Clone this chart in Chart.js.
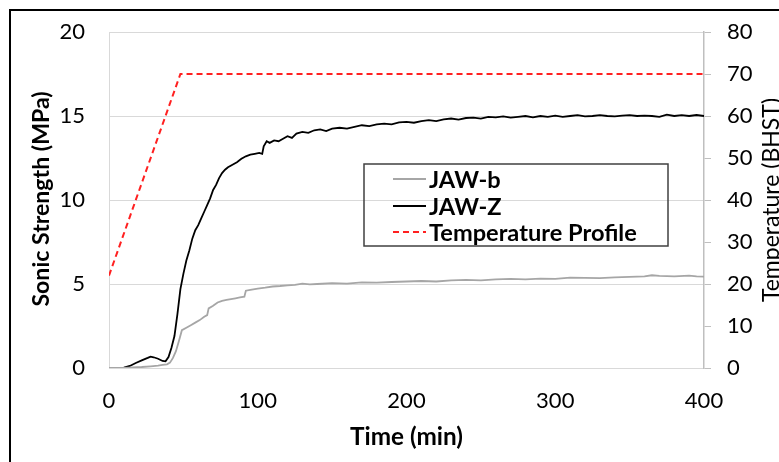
<!DOCTYPE html>
<html>
<head>
<meta charset="utf-8">
<script src="https://cdn.jsdelivr.net/npm/chart.js@4.4.1/dist/chart.umd.min.js"></script>
<style>
  body { margin: 0; background: #fff; }
  #wrap { width: 779px; height: 462px; }
</style>
</head>
<body>
<div id="wrap"><canvas id="chart" width="779" height="462"></canvas></div>
<script>
// values
const jawZTime = [0, 5, 10, 14, 18, 22, 26, 28, 30, 33, 36, 38, 40, 42, 44, 46, 48, 50, 52, 54, 56, 58, 60, 62, 64, 66, 68, 70, 72, 74, 76, 78, 80, 83, 86, 89, 92, 95, 98, 101, 103, 104, 106, 108, 111, 114, 117, 120, 123, 126, 130, 134, 138, 142, 146, 150, 155, 160, 165, 170, 175, 180, 185, 190, 195, 200, 205, 210, 215, 220, 225, 230, 235, 240, 245, 250, 255, 260, 265, 270, 275, 280, 285, 290, 295, 300, 305, 310, 315, 320, 325, 330, 335, 340, 345, 350, 355, 360, 365, 370, 375, 380, 385, 390, 395, 400];
const jawZ = [0, 0, 0.02, 0.12, 0.3, 0.45, 0.6, 0.68, 0.64, 0.55, 0.42, 0.4, 0.65, 1.2, 1.9, 3.2, 4.7, 5.6, 6.4, 7.0, 7.7, 8.2, 8.5, 8.9, 9.3, 9.7, 10.1, 10.6, 10.9, 11.3, 11.6, 11.8, 11.95, 12.1, 12.25, 12.45, 12.6, 12.7, 12.75, 12.8, 12.75, 13.2, 13.5, 13.4, 13.55, 13.5, 13.65, 13.8, 13.7, 13.95, 14.05, 14.0, 14.15, 14.2, 14.1, 14.25, 14.3, 14.25, 14.35, 14.45, 14.4, 14.5, 14.55, 14.5, 14.62, 14.65, 14.6, 14.7, 14.75, 14.7, 14.8, 14.85, 14.78, 14.88, 14.9, 14.85, 14.95, 14.92, 14.98, 14.9, 14.95, 15.0, 14.92, 15.0, 14.95, 15.02, 14.95, 15.0, 15.05, 14.98, 15.0, 15.05, 15.0, 14.98, 15.02, 15.05, 15.0, 15.02, 15.0, 14.95, 15.08, 15.0, 15.05, 15.0, 15.06, 15.0];

const jawBTime = [0, 10, 16, 22, 28, 33, 36, 39, 41, 43, 45, 47, 49, 52, 55, 58, 61, 64, 66, 67, 70, 73, 76, 79, 82, 85, 88, 91, 92, 95, 100, 105, 110, 115, 120, 125, 130, 135, 140, 150, 160, 170, 180, 190, 200, 210, 220, 230, 240, 250, 260, 270, 280, 290, 300, 310, 320, 330, 340, 350, 360, 365, 370, 380, 390, 395, 400];
const jawB = [0, 0, 0.04, 0.06, 0.1, 0.14, 0.18, 0.22, 0.32, 0.6, 1.0, 1.6, 2.25, 2.4, 2.55, 2.7, 2.85, 3.05, 3.15, 3.55, 3.7, 3.9, 4.0, 4.05, 4.1, 4.15, 4.2, 4.25, 4.6, 4.65, 4.72, 4.78, 4.85, 4.88, 4.92, 4.95, 5.02, 4.98, 5.0, 5.05, 5.02, 5.1, 5.08, 5.12, 5.15, 5.18, 5.15, 5.22, 5.25, 5.22, 5.28, 5.3, 5.28, 5.32, 5.3, 5.38, 5.36, 5.35, 5.4, 5.42, 5.45, 5.52, 5.48, 5.45, 5.5, 5.45, 5.44];

const tempTime = [0, 48, 400];
const temp = [22, 70, 70];

const xTicks = [0, 100, 200, 300, 400];
const yTicks = [0, 5, 10, 15, 20];
const y1Ticks = [0, 10, 20, 30, 40, 50, 60, 70, 80];

function pts(xs, ys) {
  return xs.map((x, i) => ({ x: x, y: ys[i] }));
}

const FONT = 'Lato';

// pick a font size so the text spans about the width seen in the picture
function fitFont(c, text, weight, width) {
  c.font = weight + ' 20px ' + FONT;
  const size = 20 * width / c.measureText(text).width;
  c.font = weight + ' ' + size.toFixed(1) + 'px ' + FONT;
}

const extras = {
  id: 'extras',
  beforeDraw(chart) {
    const c = chart.ctx;
    c.save();
    c.fillStyle = '#fff';
    c.fillRect(0, 0, chart.width, chart.height);
    c.restore();
  },
  afterDraw(chart) {
    const c = chart.ctx;
    const a = chart.chartArea;
    c.save();
    // outer frame
    c.strokeStyle = '#000';
    c.lineWidth = 2;
    c.strokeRect(10, 10, 800, 500);

    // axis titles
    c.fillStyle = '#000';
    c.textAlign = 'center';
    c.textBaseline = 'middle';
    fitFont(c, 'Time (min)', 'bold', 113);
    c.fillText('Time (min)', (a.left + a.right) / 2, 437);
    c.save();
    fitFont(c, 'Sonic Strength (MPa)', 'bold', 215);
    c.translate(42, 199);
    c.rotate(-Math.PI / 2);
    c.fillText('Sonic Strength (MPa)', 0, 0);
    c.restore();
    c.save();
    fitFont(c, 'Temperature (BHST)', 'normal', 204);
    c.translate(772, 200);
    c.rotate(-Math.PI / 2);
    c.fillText('Temperature (BHST)', 0, 0);
    c.restore();

    // legend box
    c.strokeStyle = '#404040';
    c.lineWidth = 1.5;
    c.strokeRect(364, 164, 304, 82);
    const rows = [179, 206, 232];
    fitFont(c, 'Temperature Profile', 'bold', 208);
    c.textAlign = 'left';
    chart.data.datasets.forEach((ds, i) => {
      const y = rows[i];
      c.beginPath();
      c.strokeStyle = ds.borderColor;
      c.lineWidth = 2;
      c.setLineDash(ds.borderDash || []);
      c.moveTo(393, y);
      c.lineTo(426, y);
      c.stroke();
      c.setLineDash([]);
      c.fillStyle = '#000';
      c.fillText(ds.label, 429, y + 1);
    });
    c.restore();
  }
};

function noVPad(s) {
  s.paddingTop = 0;
  s.paddingBottom = 0;
}

new Chart(document.getElementById('chart'), {
  type: 'scatter',
  data: {
    datasets: [{
      label: 'JAW-b',
      data: pts(jawBTime, jawB),
      borderColor: '#a6a6a6',
      borderWidth: 1.8,
      showLine: true,
      pointRadius: 0,
      yAxisID: 'y'
    }, {
      label: 'JAW-Z',
      data: pts(jawZTime, jawZ),
      borderColor: '#000000',
      borderWidth: 1.8,
      showLine: true,
      pointRadius: 0,
      yAxisID: 'y'
    }, {
      label: 'Temperature Profile',
      data: pts(tempTime, temp),
      borderColor: '#ff2020',
      borderWidth: 2,
      borderDash: [6, 4],
      showLine: true,
      pointRadius: 0,
      yAxisID: 'y1'
    }]
  },
  options: {
    responsive: false,
    animation: false,
    layout: { padding: { top: 32, left: 0, right: 0, bottom: 0 } },
    plugins: {
      legend: { display: false },
      tooltip: { enabled: false }
    },
    scales: {
      x: {
        type: 'linear',
        min: 0,
        max: 400,
        afterBuildTicks: s => { s.ticks = xTicks.map(v => ({ value: v })); },
        afterFit: s => { s.height = 94; },
        grid: { display: false, drawTicks: false },
        border: { display: true, color: '#d9d9d9', width: 1 },
        ticks: { color: '#000', font: { family: FONT, size: 22 }, padding: 20, maxRotation: 0 }
      },
      y: {
        position: 'left',
        min: 0,
        max: 20,
        afterBuildTicks: s => { s.ticks = yTicks.map(v => ({ value: v })); },
        afterFit: s => { s.width = 109; noVPad(s); },
        grid: { color: '#d9d9d9', drawTicks: false },
        border: { display: true, color: '#d9d9d9', width: 1 },
        ticks: { color: '#000', font: { family: FONT, size: 22 }, padding: 24 }
      },
      y1: {
        position: 'right',
        min: 0,
        max: 80,
        afterBuildTicks: s => { s.ticks = y1Ticks.map(v => ({ value: v })); },
        afterFit: s => { s.width = 75; noVPad(s); },
        grid: { drawOnChartArea: false, color: '#bfbfbf', tickLength: 7 },
        border: { display: true, color: '#bfbfbf', width: 1.5 },
        ticks: { color: '#000', font: { family: FONT, size: 22 }, padding: 16 }
      }
    }
  },
  plugins: [extras]
});
</script>
</body>
</html>
